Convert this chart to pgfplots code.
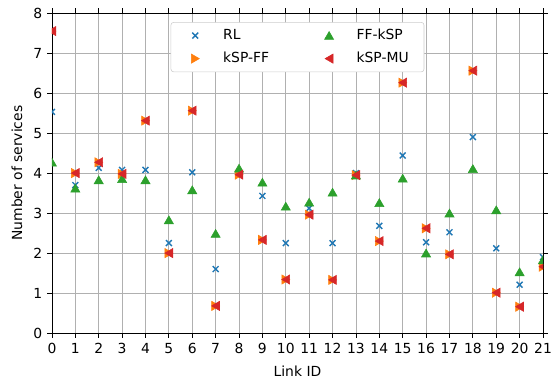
\documentclass[border=0pt]{standalone}
\usepackage{fontspec}
\setmainfont{DejaVu Sans}
\usepackage{pgfplots}
\pgfplotsset{compat=1.18}
\definecolor{c0}{HTML}{1F77B4}
\definecolor{c1}{HTML}{FF7F0E}
\definecolor{c2}{HTML}{2CA02C}
\definecolor{c3}{HTML}{D62728}
\pgfplotstableread{
x RL FFkSP kSPFF kSPMU
0 5.53 4.27 7.55 7.55
1 3.70 3.62 4.00 4.00
2 4.13 3.83 4.27 4.27
3 4.08 3.86 3.98 3.98
4 4.08 3.83 5.31 5.31
5 2.25 2.83 2.00 2.00
6 4.02 3.58 5.56 5.56
7 1.60 2.49 0.68 0.68
8 4.00 4.12 3.96 3.96
9 3.43 3.77 2.33 2.33
10 2.25 3.17 1.34 1.34
11 3.12 3.27 2.96 2.96
12 2.25 3.52 1.33 1.33
13 4.00 3.95 3.95 3.95
14 2.68 3.26 2.30 2.30
15 4.44 3.87 6.26 6.26
16 2.27 2.00 2.62 2.62
17 2.52 3.00 1.97 1.97
18 4.90 4.11 6.56 6.56
19 2.12 3.08 1.01 1.01
20 1.21 1.53 0.66 0.66
21 1.90 1.83 1.66 1.66
}\datatable
\pgfplotsset{mylegimg/.style={legend image code/.code={%
  \path (-8pt,0pt) (17.6pt,0pt);
  \draw[##1] plot coordinates {(0pt,0pt)};}}}
\begin{document}
\begin{tikzpicture}
\begin{axis}[
  scale only axis,
  width=353.5pt, height=230.4pt,
  xmin=0, xmax=21, ymin=0, ymax=8,
  xtick={0,...,21}, ytick={0,...,8},
  tick align=outside,
  tick style={black, line width=0.6pt},
  major tick length=3.5pt,
  grid=major,
  grid style={color=black!31, line width=0.6pt},
  axis line style={line width=0.6pt},
  xlabel={Link ID}, ylabel={Number of services},
  label style={font=\fontsize{10}{12}\selectfont},
  tick label style={font=\fontsize{10}{12}\selectfont},
  /pgf/number format/assume math mode=true,
  xlabel style={at={(axis description cs:0.5,-0.119)}, anchor=center},
  ylabel style={at={(axis description cs:-0.0713,0.5)}, anchor=center},
  clip=true,
  clip marker paths=true,
  legend columns=2,
  transpose legend,
  legend cell align=left,
  legend style={at={(0.5,0.972)}, anchor=north, draw=black!20, rounded corners=2pt,
    fill=white,
    font=\fontsize{10}{12}\selectfont,
    /tikz/every even column/.append style={column sep=33pt},
    row sep=3.5pt,
    inner xsep=9pt, inner ysep=3pt},
]
\addplot[only marks, mark=x, mark size=3pt, color=c0, line width=1pt, mylegimg] table[x=x,y=RL]{\datatable};
\addlegendentry{RL}
\addplot[only marks, mark=triangle*, mark size=3.8pt, color=c1, mark options={xshift=-0.9pt, rotate=-90, fill=c1, draw=c1}, mylegimg] table[x=x,y=kSPFF]{\datatable};
\addlegendentry{kSP-FF}
\addplot[only marks, mark=triangle*, mark size=3.8pt, color=c2, mark options={yshift=-0.9pt, fill=c2, draw=c2}, mylegimg] table[x=x,y=FFkSP]{\datatable};
\addlegendentry{FF-kSP}
\addplot[only marks, mark=triangle*, mark size=3.8pt, color=c3, mark options={xshift=0.9pt, rotate=90, fill=c3, draw=c3}, mylegimg] table[x=x,y=kSPMU]{\datatable};
\addlegendentry{kSP-MU}
\coordinate (sw) at (rel axis cs:0,0);
\coordinate (ne) at (rel axis cs:1,1);
\end{axis}
\pgfresetboundingbox
\useasboundingbox ([xshift=-37.4pt,yshift=-33pt]sw) rectangle ([xshift=7.2pt,yshift=9.4pt]ne);
\end{tikzpicture}
\end{document}
